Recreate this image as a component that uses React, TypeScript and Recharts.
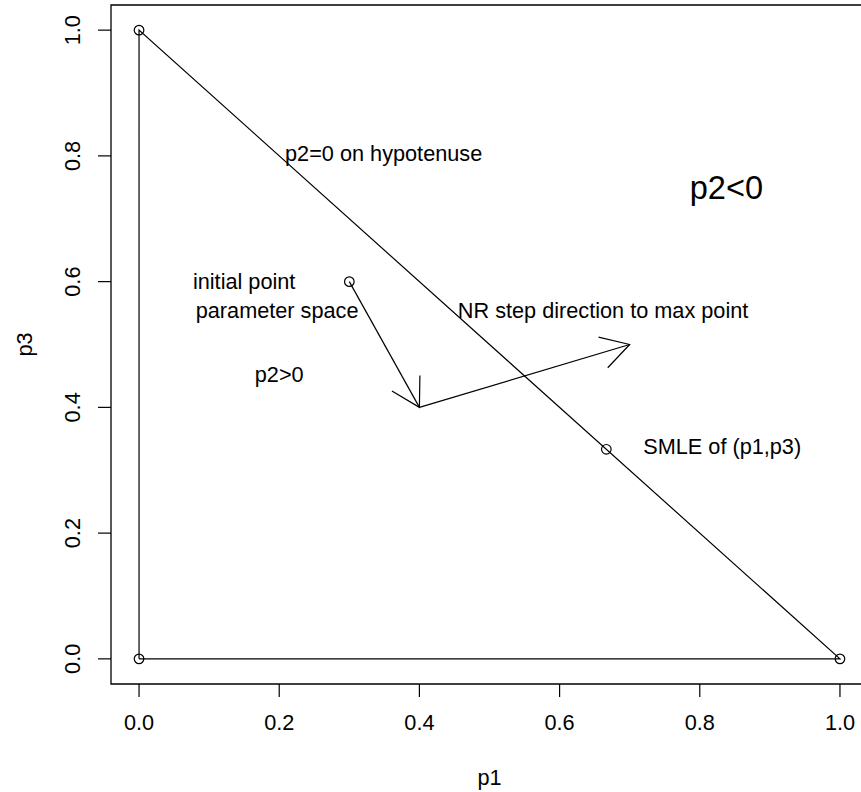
import React from 'react';
import { ScatterChart, Scatter, XAxis, YAxis, ReferenceLine, ReferenceArea, Label } from 'recharts';

const FONT = '"Liberation Sans", Arial, Helvetica, sans-serif';
const FS = 21.7;

const xTicks = [0, 0.2, 0.4, 0.6, 0.8, 1.0];
const yTicks = [0, 0.2, 0.4, 0.6, 0.8, 1.0];
const axisDomain: [number, number] = [-0.04, 1.04];

const trianglePath = [
  { x: 0, y: 0 },
  { x: 0, y: 1 },
  { x: 1, y: 0 },
  { x: 0, y: 0 },
];

const markedPoints = [
  { x: 0, y: 1 },
  { x: 0, y: 0 },
  { x: 1, y: 0 },
  { x: 0.3, y: 0.6 },
  { x: 2 / 3, y: 1 / 3 },
];

const stepArrows = [
  { from: { x: 0.3, y: 0.6 }, to: { x: 0.4, y: 0.4 } },
  { from: { x: 0.4, y: 0.4 }, to: { x: 0.7, y: 0.5 } },
];

const annotations = [
  { x: 0.15, y: 0.6, text: 'initial point', size: FS },
  { x: 0.197, y: 0.555, text: 'parameter space', size: FS },
  { x: 0.2, y: 0.452, text: 'p2>0', size: FS },
  { x: 0.349, y: 0.805, text: 'p2=0 on hypotenuse', size: FS },
  { x: 0.838, y: 0.75, text: 'p2<0', size: FS * 1.5 },
  { x: 0.662, y: 0.555, text: 'NR step direction to max point', size: FS },
  { x: 0.832, y: 0.338, text: 'SMLE of (p1,p3)', size: FS },
];

const fmt = (v: number) => v.toFixed(1);

const YTick = (p: any) => {
  const bx = p.x - 18;
  return (
    <text
      x={bx}
      y={p.y}
      transform={`rotate(-90 ${bx} ${p.y})`}
      textAnchor="middle"
      fontSize={FS}
      fontFamily={FONT}
      fill="#000"
    >
      {fmt(p.payload.value)}
    </text>
  );
};

const arrowShape = (id: string) => (p: any) => (
  <g>
    <defs>
      <marker
        id={id}
        markerUnits="userSpaceOnUse"
        markerWidth={80}
        markerHeight={80}
        viewBox="-40 -40 80 80"
        refX={0}
        refY={0}
        orient="auto"
        overflow="visible"
      >
        <path d="M -27.7 -16 L 0 0 L -27.7 16" fill="none" stroke="#000" strokeWidth={1.2} />
      </marker>
    </defs>
    <line x1={p.x1} y1={p.y1} x2={p.x2} y2={p.y2} stroke="#000" strokeWidth={1.2} markerEnd={`url(#${id})`} />
  </g>
);

export default function App() {
  return (
    <div style={{ position: 'absolute', left: 0, top: 0, width: 861, height: 792, overflow: 'hidden', background: '#fff' }}>
      <ScatterChart width={900} height={792} margin={{ top: 5, right: 32, bottom: 0, left: 0 }}>
        <XAxis
          type="number"
          dataKey="x"
          domain={axisDomain}
          ticks={xTicks}
          interval={0}
          tickFormatter={fmt}
          axisLine={false}
          tickLine={{ stroke: '#000', strokeWidth: 1.2 }}
          tickSize={13}
          tickMargin={18}
          height={108}
          tick={{ fontSize: FS, fontFamily: FONT, fill: '#000' }}
          allowDataOverflow
        >
          <Label
            content={(props: any) => {
              const vb = props.viewBox || { x: 111, y: 684, width: 757, height: 108 };
              return (
                <text x={vb.x + vb.width / 2} y={vb.y + 101} textAnchor="middle" fontSize={FS} fontFamily={FONT} fill="#000">
                  p1
                </text>
              );
            }}
          />
        </XAxis>
        <YAxis
          type="number"
          dataKey="y"
          domain={axisDomain}
          ticks={yTicks}
          interval={0}
          axisLine={false}
          tickLine={{ stroke: '#000', strokeWidth: 1.2 }}
          tickSize={13}
          tickMargin={0}
          width={111}
          tick={<YTick />}
          allowDataOverflow
        >
          <Label
            content={(props: any) => {
              const vb = props.viewBox || { x: 0, y: 5, width: 111, height: 679 };
              const cx = vb.x + 32;
              const cy = vb.y + vb.height / 2;
              return (
                <text x={cx} y={cy} transform={`rotate(-90 ${cx} ${cy})`} textAnchor="middle" fontSize={FS} fontFamily={FONT} fill="#000">
                  p3
                </text>
              );
            }}
          />
        </YAxis>
        <ReferenceArea
          x1={axisDomain[0]}
          x2={axisDomain[1]}
          y1={axisDomain[0]}
          y2={axisDomain[1]}
          fill="none"
          fillOpacity={0}
          stroke="#000"
          strokeWidth={1.3}
          ifOverflow="visible"
        />
        <Scatter
          data={trianglePath}
          line={{ stroke: '#000', strokeWidth: 1.2 }}
          lineType="joint"
          shape={() => <g />}
          isAnimationActive={false}
        />
        {stepArrows.map((a, i) => (
          <ReferenceLine
            key={i}
            segment={[a.from, a.to]}
            ifOverflow="visible"
            shape={arrowShape(`arrowhead${i}`)}
          />
        ))}
        <Scatter
          data={markedPoints}
          shape={(p: any) => <circle cx={p.cx} cy={p.cy} r={4.8} fill="none" stroke="#000" strokeWidth={1.2} />}
          isAnimationActive={false}
        />
        <Scatter
          data={annotations}
          shape={(p: any) => (
            <text x={p.cx} y={p.cy} dy="0.36em" textAnchor="middle" fontSize={p.payload.size} fontFamily={FONT} fill="#000">
              {p.payload.text}
            </text>
          )}
          isAnimationActive={false}
        />
      </ScatterChart>
    </div>
  );
}
